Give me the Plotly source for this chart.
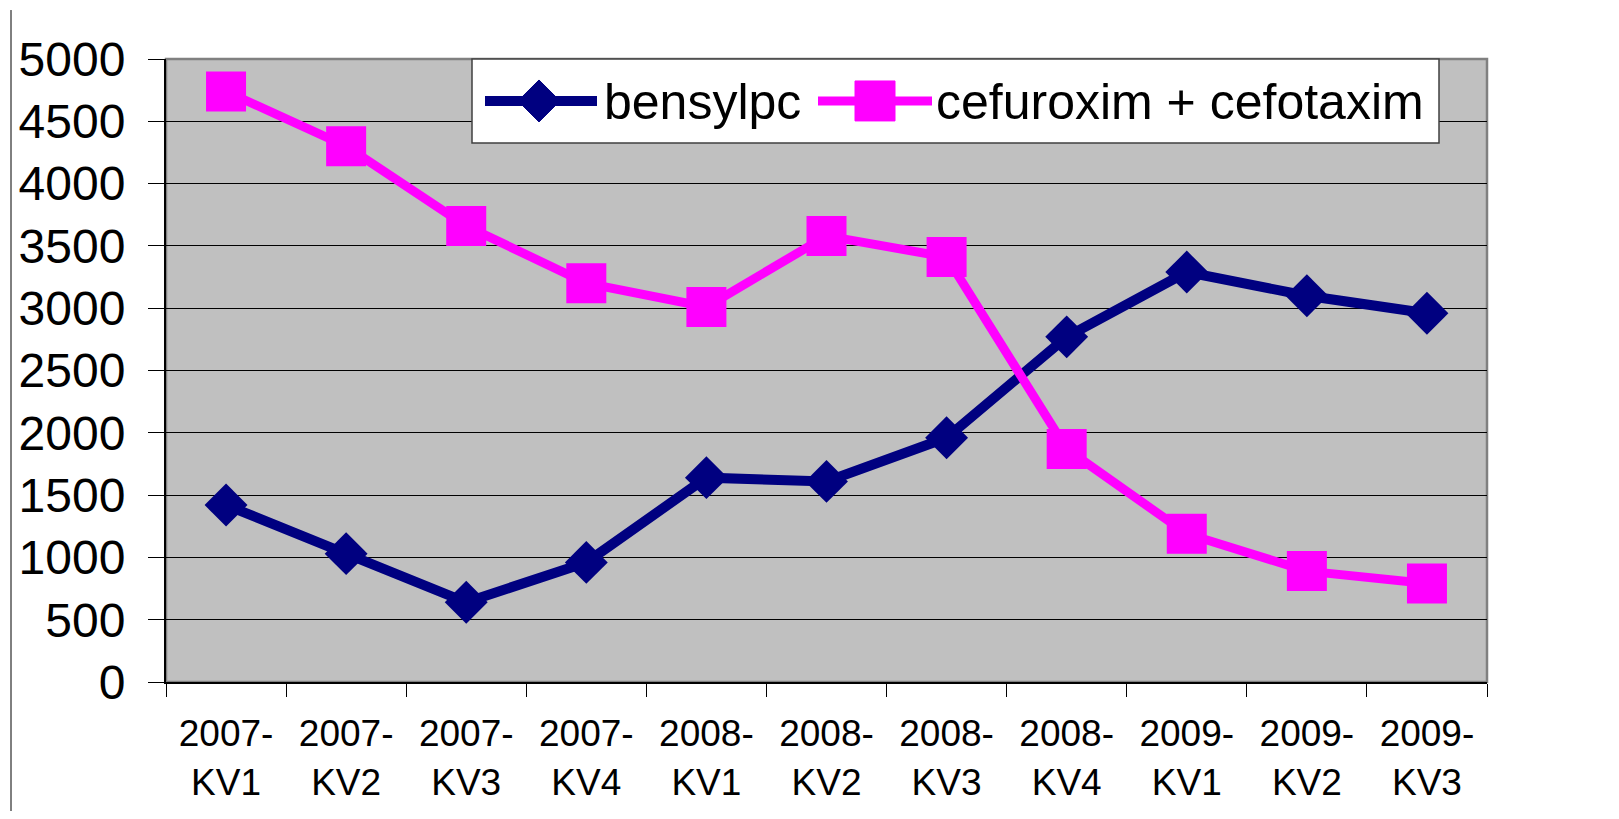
import plotly.graph_objects as go

categories = ["2007-<br>KV1", "2007-<br>KV2", "2007-<br>KV3", "2007-<br>KV4",
              "2008-<br>KV1", "2008-<br>KV2", "2008-<br>KV3", "2008-<br>KV4",
              "2009-<br>KV1", "2009-<br>KV2", "2009-<br>KV3"]
bensylpc = [1420, 1030, 640, 960, 1640, 1610, 1960, 2770, 3290, 3100, 2960]
cefuroxim_cefotaxim = [4740, 4300, 3660, 3200, 3010, 3580, 3410, 1870, 1190, 890, 790]
series_names = ["bensylpc", "cefuroxim + cefotaxim"]
y_ticks = [0, 500, 1000, 1500, 2000, 2500, 3000, 3500, 4000, 4500, 5000]

# page body has an 8px default margin; work in page pixels and subtract it
OFF = 8
W, H = 1619 - 2 * OFF, 819 - 2 * OFF
L, R, T, B = 166 - OFF, 1487 - OFF, 59 - OFF, 682.5 - OFF
FONT = "Liberation Sans, Arial, sans-serif"
NAVY = "#000080"
MAGENTA = "#FF00FF"


def px(x):
    return (x - OFF - L) / (R - L)


def py(y):
    return (B - (y - OFF)) / (B - T)


fig = go.Figure()
fig.add_trace(go.Scatter(
    x=categories, y=bensylpc, name=series_names[0], mode="lines+markers",
    line=dict(color=NAVY, width=10),
    marker=dict(symbol="diamond", size=33, color=NAVY),
    showlegend=False, cliponaxis=False))
fig.add_trace(go.Scatter(
    x=categories, y=cefuroxim_cefotaxim, name=series_names[1], mode="lines+markers",
    line=dict(color=MAGENTA, width=9),
    marker=dict(symbol="square", size=40, color=MAGENTA),
    showlegend=False, cliponaxis=False))

shapes = []
shapes.append(dict(type="rect", xref="paper", yref="paper", x0=0, x1=1, y0=0, y1=1,
                   line=dict(color="#808080", width=2.5), layer="below"))
shapes.append(dict(type="line", xref="paper", yref="paper",
                   x0=px(11), x1=px(11), y0=py(819), y1=py(10),
                   line=dict(color="black", width=1)))

# legend box drawn to match the original's large symbols
lx0, lx1, ly0, ly1 = 472, 1439, 59, 143
ly = 101
shapes.append(dict(type="rect", xref="paper", yref="paper",
                   x0=px(lx0), x1=px(lx1), y0=py(ly1), y1=py(ly0),
                   fillcolor="white", line=dict(color="#404040", width=1.5)))
shapes.append(dict(type="line", xref="paper", yref="paper",
                   x0=px(485), x1=px(597), y0=py(ly), y1=py(ly),
                   line=dict(color=NAVY, width=10)))
cx, r = 539, 21
shapes.append(dict(type="path", xref="paper", yref="paper",
                   path=f"M {px(cx - r)} {py(ly)} L {px(cx)} {py(ly - r)} L {px(cx + r)} {py(ly)} L {px(cx)} {py(ly + r)} Z",
                   fillcolor=NAVY, line=dict(color=NAVY, width=1)))
shapes.append(dict(type="line", xref="paper", yref="paper",
                   x0=px(818), x1=px(932), y0=py(ly), y1=py(ly),
                   line=dict(color=MAGENTA, width=9)))
cx2, h2 = 875, 20
shapes.append(dict(type="rect", xref="paper", yref="paper",
                   x0=px(cx2 - h2), x1=px(cx2 + h2), y0=py(ly + h2), y1=py(ly - h2),
                   fillcolor=MAGENTA, line=dict(color=MAGENTA, width=1)))

annotations = [
    dict(text=series_names[0], xref="paper", yref="paper", x=px(602), y=py(ly + 1),
         xanchor="left", yanchor="middle", showarrow=False,
         font=dict(family=FONT, size=50, color="black")),
    dict(text=series_names[1], xref="paper", yref="paper", x=px(934), y=py(ly + 1),
         xanchor="left", yanchor="middle", showarrow=False,
         font=dict(family=FONT, size=50, color="black")),
]

fig.update_layout(
    width=W, height=H,
    margin=dict(l=L, r=W - R, t=T, b=H - B, pad=0, autoexpand=False),
    paper_bgcolor="white", plot_bgcolor="#C0C0C0",
    shapes=shapes, annotations=annotations,
    showlegend=False,
    font=dict(family=FONT, color="black"),
)
fig.update_xaxes(
    type="category", tickson="boundaries", ticks="outside", ticklen=13,
    tickcolor="black", tickwidth=1, showgrid=False, automargin=False,
    showline=True, linecolor="black", linewidth=2,
    tickfont=dict(family=FONT, size=37, color="black"),
    ticklabelstandoff=18, range=[-0.5, 10.5])
fig.update_yaxes(
    range=[0, 5000], tickvals=y_ticks, ticks="outside", ticklen=16,
    tickcolor="black", tickwidth=1, showgrid=True, gridcolor="black", gridwidth=1,
    showline=True, linecolor="black", linewidth=2, zeroline=False, automargin=False,
    tickfont=dict(family=FONT, size=48, color="black"),
    ticklabelstandoff=13)

fig.write_html("out.html")
